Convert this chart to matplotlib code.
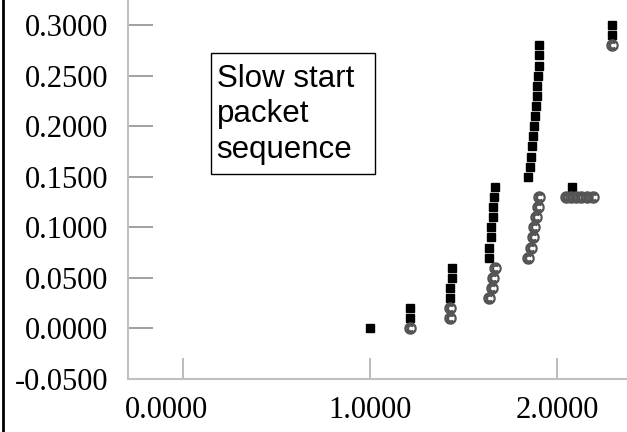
import matplotlib
matplotlib.use("Agg")
import matplotlib.pyplot as plt
import matplotlib.transforms as mtransforms
from matplotlib.lines import Line2D
from matplotlib.patches import Rectangle

# packet times (s) and sequence values
sent_x = [1.000,
          1.214, 1.214,
          1.437, 1.437, 1.425, 1.425,
          1.668, 1.665, 1.657, 1.657, 1.647, 1.647, 1.638, 1.638,
          1.906, 1.906, 1.904, 1.900, 1.895, 1.891, 1.888,
          1.882, 1.877, 1.870, 1.868, 1.861, 1.856, 1.847,
          2.078,
          2.294, 2.294]
sent_y = [0.00,
          0.02, 0.01,
          0.06, 0.05, 0.04, 0.03,
          0.14, 0.13, 0.12, 0.11, 0.10, 0.09, 0.08, 0.07,
          0.28, 0.27, 0.26, 0.25, 0.24, 0.23, 0.22,
          0.21, 0.20, 0.19, 0.18, 0.17, 0.16, 0.15,
          0.14,
          0.30, 0.29]

ack_x = [1.214,
         1.428, 1.428,
         1.668, 1.659, 1.651, 1.636,
         1.906, 1.897, 1.888, 1.877, 1.870, 1.859, 1.847,
         2.048, 2.075, 2.102, 2.128, 2.160, 2.192,
         2.294]
ack_y = [0.00,
         0.02, 0.01,
         0.06, 0.05, 0.04, 0.03,
         0.13, 0.12, 0.11, 0.10, 0.09, 0.08, 0.07,
         0.13, 0.13, 0.13, 0.13, 0.13, 0.13,
         0.28]

x_ticks = [0.0, 1.0, 2.0]
y_ticks = [-0.05, 0.0, 0.05, 0.10, 0.15, 0.20, 0.25, 0.30]

fig = plt.figure(figsize=(6.27, 4.32), dpi=100)
ax = fig.add_axes([128 / 627, 53 / 432, 499 / 627, 379 / 432])

ax.plot(sent_x, sent_y, linestyle='none', marker='s', markersize=6,
        color='black', zorder=3)
ax.plot(ack_x, ack_y, linestyle='none', marker='$©$', markersize=8,
        color='#555555', zorder=3)

ax.set_xlim(-0.294, 2.374)
ax.set_ylim(-0.05, 0.3248)

for side in ['top', 'right']:
    ax.spines[side].set_visible(False)
for side in ['left', 'bottom']:
    ax.spines[side].set_color('#c0c0c0')
    ax.spines[side].set_linewidth(1.5)

ax.set_xticks(x_ticks)
ax.set_xticklabels([f'{v:.4f}' for v in x_ticks])
ax.set_yticks(y_ticks)
ax.set_yticklabels([f'{v:.4f}' for v in y_ticks])

ax.tick_params(axis='x', direction='in', length=15, width=1.2, color='#b0b0b0',
               pad=12, labelsize=22)
ax.tick_params(axis='y', direction='in', length=18, width=1.2, color='#909090',
               pad=14, labelsize=22)
for lbl in ax.get_xticklabels() + ax.get_yticklabels():
    lbl.set_fontfamily('Liberation Serif')

# darker marks at the origin
ax.xaxis.get_major_ticks()[0].tick1line.set_color('#333333')
ax.yaxis.get_major_ticks()[1].tick1line.set_color('#333333')

# first x label sits a bit left of its tick
shift = mtransforms.ScaledTranslation(-16 / 100, 0, fig.dpi_scale_trans)
first = ax.get_xticklabels()[0]
first.set_transform(first.get_transform() + shift)

# text box
ax.add_patch(Rectangle((0.150, 0.1525), 0.877, 0.1198, fill=False,
                       edgecolor='black', linewidth=1, zorder=2))
ax.text(0.180, 0.262, 'Slow start\npacket\nsequence', ha='left', va='top',
        fontsize=22.5, family='Liberation Sans', linespacing=1.24)

# thick black rule at the left edge of the figure
fig.add_artist(Line2D([0.004, 0.004], [0, 1], color='black', linewidth=2,
                      transform=fig.transFigure))

fig.savefig('out.png', dpi=100)
